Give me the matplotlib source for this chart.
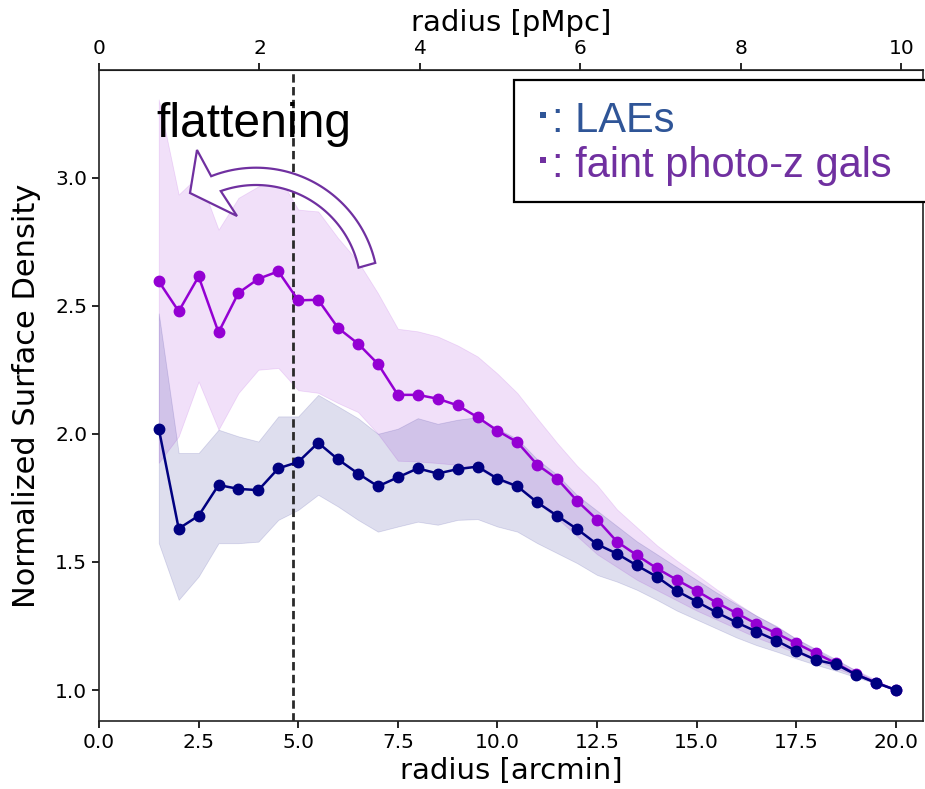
import numpy as np
import matplotlib
matplotlib.use("Agg")
import matplotlib.pyplot as plt
from matplotlib.patches import Polygon, Rectangle
from matplotlib.transforms import Affine2D

W, H = 925, 789

radius = [1.5, 2.0, 2.5, 3.0, 3.5, 4.0, 4.5, 5.0, 5.5, 6.0, 6.5, 7.0, 7.5,
          8.0, 8.5, 9.0, 9.5, 10.0, 10.5, 11.0, 11.5, 12.0, 12.5, 13.0, 13.5,
          14.0, 14.5, 15.0, 15.5, 16.0, 16.5, 17.0, 17.5, 18.0, 18.5, 19.0,
          19.5, 20.0]

# LAEs
lae = [2.02, 1.63, 1.68, 1.80, 1.785, 1.78, 1.865, 1.89, 1.965, 1.90, 1.845,
       1.795, 1.83, 1.865, 1.845, 1.862, 1.872, 1.825, 1.795, 1.732, 1.68,
       1.628, 1.569, 1.532, 1.486, 1.442, 1.387, 1.345, 1.303, 1.264, 1.228,
       1.193, 1.152, 1.117, 1.10, 1.06, 1.028, 1.0]
lae_hi = [2.47, 1.925, 1.925, 2.016, 1.99, 1.97, 2.068, 2.068, 2.152, 2.107,
          2.061, 2.0, 2.02, 2.061, 2.039, 2.055, 2.065, 2.02, 1.98, 1.90, 1.84,
          1.76, 1.70, 1.64, 1.58, 1.53, 1.48, 1.43, 1.38, 1.335, 1.29, 1.25,
          1.20, 1.16, 1.12, 1.075, 1.035, 1.0]
lae_lo = [1.573, 1.352, 1.443, 1.573, 1.573, 1.579, 1.664, 1.703, 1.762,
          1.716, 1.664, 1.618, 1.638, 1.657, 1.645, 1.664, 1.667, 1.638,
          1.618, 1.573, 1.534, 1.495, 1.449, 1.423, 1.391, 1.352, 1.31, 1.275,
          1.24, 1.205, 1.175, 1.15, 1.123, 1.098, 1.075, 1.05, 1.025, 1.0]

# faint photo-z galaxies
faint = [2.595, 2.478, 2.614, 2.396, 2.55, 2.605, 2.634, 2.521, 2.523, 2.413,
         2.352, 2.273, 2.152, 2.152, 2.137, 2.111, 2.065, 2.012, 1.967, 1.879,
         1.824, 1.738, 1.665, 1.579, 1.526, 1.475, 1.43, 1.387, 1.341, 1.30,
         1.258, 1.221, 1.182, 1.143, 1.104, 1.061, 1.029, 1.0]
faint_hi = [3.305, 2.934, 3.008, 2.797, 2.921, 2.966, 3.008, 2.875, 2.868,
            2.764, 2.673, 2.549, 2.41, 2.40, 2.38, 2.345, 2.302, 2.235, 2.159,
            2.06, 1.964, 1.875, 1.80, 1.705, 1.635, 1.565, 1.505, 1.45, 1.393,
            1.34, 1.29, 1.247, 1.20, 1.156, 1.115, 1.078, 1.04, 1.0]
faint_lo = [1.887, 1.99, 2.204, 2.016, 2.159, 2.25, 2.257, 2.17, 2.16, 2.12,
            2.085, 2.0, 1.895, 1.892, 1.886, 1.879, 1.866, 1.82, 1.79, 1.73,
            1.67, 1.60, 1.53, 1.48, 1.43, 1.39, 1.35, 1.31, 1.275, 1.24, 1.205,
            1.175, 1.145, 1.115, 1.085, 1.055, 1.028, 1.0]

r_cut = 4.88
arcmin_to_pmpc = 0.4966
xticks = [0.0, 2.5, 5.0, 7.5, 10.0, 12.5, 15.0, 17.5, 20.0]
yticks = [1.0, 1.5, 2.0, 2.5, 3.0]
top_ticks = [0, 2, 4, 6, 8, 10]

fig = plt.figure(figsize=(W / 100, H / 100), dpi=100)
ax = fig.add_axes([99 / W, 1 - 721 / H, (923 - 99) / W, (721 - 70) / H])

ax.fill_between(radius, faint_lo, faint_hi, facecolor="darkviolet", alpha=0.12,
                edgecolor="darkviolet", lw=0.6)
ax.fill_between(radius, lae_lo, lae_hi, facecolor="navy", alpha=0.13,
                edgecolor="navy", lw=0.6)
ax.plot(radius, faint, "-o", color="darkviolet", lw=1.8, ms=7.5, zorder=4)
ax.plot(radius, lae, "-o", color="navy", lw=1.8, ms=7.5, zorder=5)
ax.axvline(r_cut, color="#2a2a2a", ls=(0, (3, 1.6)), lw=2.0, zorder=3)

ax.set_xlim(0, 20.68)
ax.set_ylim(0.879, 3.42)
ax.set_xticks(xticks)
ax.set_xticklabels(["%.1f" % t for t in xticks])
ax.set_yticks(yticks)
ax.set_yticklabels(["%.1f" % t for t in yticks])
ax.tick_params(labelsize=14.5, length=5, width=1.2)
ax.set_xlabel("radius [arcmin]", fontsize=21, labelpad=4)
ax.set_ylabel("Normalized Surface Density", fontsize=22, labelpad=10)
for s in ax.spines.values():
    s.set_linewidth(1.2)
    s.set_color("#222222")

sec = ax.secondary_xaxis("top", functions=(lambda x: x * arcmin_to_pmpc,
                                           lambda x: x / arcmin_to_pmpc))
sec.set_xticks(top_ticks)
sec.tick_params(labelsize=14.5, length=5, width=1.2)
sec.set_xlabel("radius [pMpc]", fontsize=21, labelpad=6)

# overlay drawn in image pixels (y down)
pix = Affine2D().scale(1 / W, -1 / H).translate(0, 1) + fig.transFigure

cx, cy = 256, 290
a_out = np.radians(np.linspace(12.8, 111.5, 60))
a_in = np.radians(np.linspace(109.6, 12.3, 60))
outer = np.column_stack([cx + 122.3 * np.cos(a_out), cy - 122.3 * np.sin(a_out)])
inner = np.column_stack([cx + 105 * np.cos(a_in), cy - 105 * np.sin(a_in)])
head = np.array([[197, 150], [190, 193], [237, 216]])
arrow = Polygon(np.vstack([outer, head, inner]), closed=True, facecolor="white",
                edgecolor="#7030a0", lw=1.6, transform=pix, zorder=6)
fig.add_artist(arrow)

fig.text(156, 137, "flattening", transform=pix, fontsize=34.5,
         family=["Liberation Sans", "DejaVu Sans"], va="baseline", zorder=7)

box = Rectangle((514, 80), 430, 122, transform=pix, facecolor="white",
                edgecolor="black", lw=1.6, zorder=6)
fig.add_artist(box)
for y0, label, col in [(132, ": LAEs", "#2f5597"), (177, ": faint photo-z gals", "#7030a0")]:
    fig.add_artist(Rectangle((539.5, y0 - 20), 6, 6, transform=pix,
                             facecolor=col, lw=0, zorder=7))
    fig.text(552, y0, label, transform=pix, fontsize=30, color=col,
             family=["Liberation Sans", "DejaVu Sans"], va="baseline", zorder=7)

fig.savefig("out.png", dpi=100)
